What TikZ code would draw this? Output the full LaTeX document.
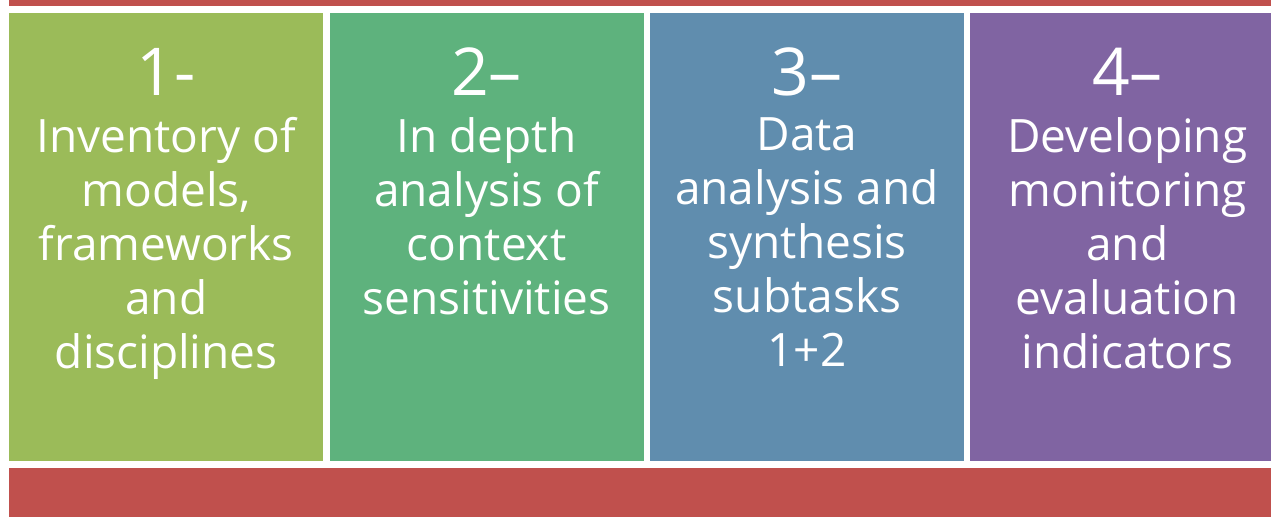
\documentclass[tikz,border=0pt]{standalone}
\usepackage{fontspec}
\setmainfont{Open Sans}
\usetikzlibrary{positioning}
\definecolor{barred}{RGB}{192,80,77}
\definecolor{stepgreen}{RGB}{155,187,89}
\definecolor{stepteal}{RGB}{94,178,125}
\definecolor{stepblue}{RGB}{96,141,174}
\definecolor{steppurple}{RGB}{128,100,162}

\begin{document}
\begin{tikzpicture}[x=1pt, y=-1pt,
  stepbox/.style={minimum width=314pt, minimum height=448pt, inner sep=0pt, anchor=north west},
  numlabel/.style={text=white, inner sep=0pt, anchor=base, font=\fontsize{66}{66}\selectfont},
  steptext/.style={text=white, inner sep=0pt, anchor=north, align=center,
    font=\fontsize{46}{54}\selectfont, execute at begin node=\strut}]
  \useasboundingbox (0,0) rectangle (1271,517);

  % red bars
  \fill[barred] (9,0) rectangle (1271,5.5);
  \fill[barred] (9,468) rectangle (1271,517);

  % the four steps
  \node[stepbox, fill=stepgreen] (inventory) at (9,12.5) {};
  \node[stepbox, fill=stepteal, right=6pt of inventory.north east, anchor=north west] (context) {};
  \node[stepbox, fill=stepblue, right=6pt of context.north east, anchor=north west] (synthesis) {};
  \node[stepbox, fill=steppurple, right=6pt of synthesis.north east, anchor=north west] (indicators) {};

  \node[numlabel] (inventorynum) at ([yshift=-82.5pt]inventory.north) {1-};
  \node[numlabel] (contextnum) at ([yshift=-82.5pt]context.north) {2–};
  \node[numlabel] (synthesisnum) at ([yshift=-82.5pt]synthesis.north) {3–};
  \node[numlabel] (indicatorsnum) at ([yshift=-82.5pt]indicators.north) {4–};

  \node[steptext] (inventorytext) at ([yshift=-104.5pt]inventory.north)
    {Inventory of\\models,\\frameworks\\and\\disciplines};
  \node[steptext] (contexttext) at ([yshift=-104.5pt]context.north)
    {In depth\\analysis of\\context\\sensitivities};
  \node[steptext] (synthesistext) at ([yshift=-104.5pt]synthesis.north)
    {Data\\analysis and\\synthesis\\subtasks\\1+2};
  \node[steptext] (indicatorstext) at ([yshift=-104.5pt]indicators.north)
    {Developing\\monitoring\\and\\evaluation\\indicators};
\end{tikzpicture}
\end{document}
